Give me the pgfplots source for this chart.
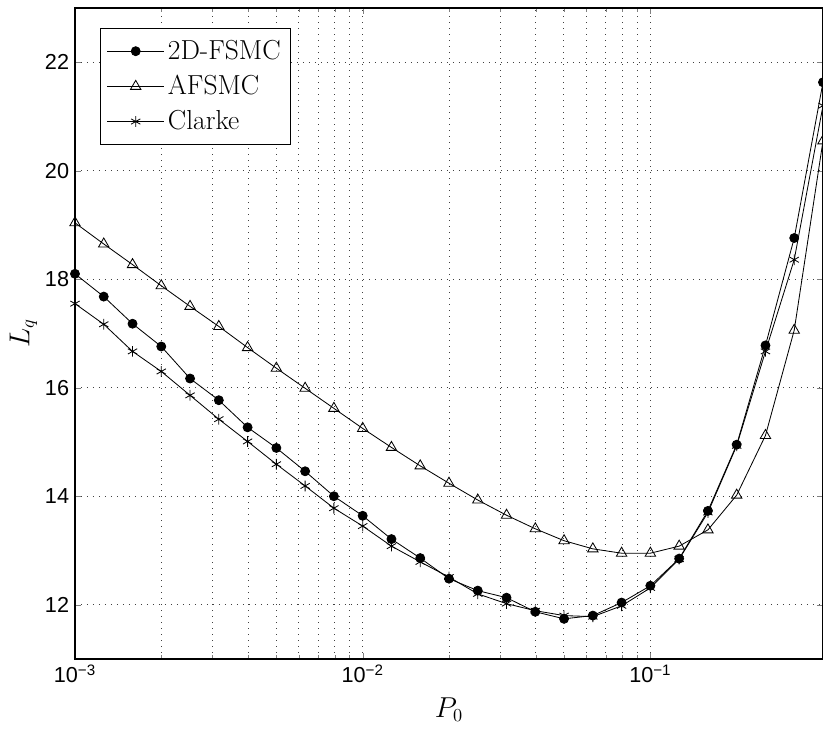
\documentclass[border=0pt]{standalone}
\usepackage{pgfplots}
\pgfplotsset{compat=1.18}
\usepackage{pgfplotstable}
\usepackage{fontspec}
\newfontfamily\hv{Liberation Sans}
\pgfplotstableread{
x fsmc afsmc clarke
0.001 18.10 19.04 17.55
0.0012589 17.68 18.65 17.17
0.0015849 17.18 18.27 16.67
0.0019953 16.76 17.88 16.30
0.0025119 16.17 17.50 15.86
0.0031623 15.77 17.13 15.42
0.0039811 15.27 16.74 15.01
0.0050119 14.89 16.36 14.59
0.0063096 14.46 15.99 14.19
0.0079433 14.00 15.62 13.78
0.01 13.64 15.25 13.45
0.012589 13.21 14.90 13.08
0.015849 12.86 14.56 12.79
0.019953 12.48 14.24 12.51
0.025119 12.26 13.93 12.20
0.031623 12.13 13.65 12.02
0.039811 11.87 13.40 11.89
0.050119 11.74 13.18 11.80
0.063096 11.80 13.03 11.78
0.079433 12.04 12.95 11.98
0.1 12.35 12.95 12.31
0.12589 12.85 13.08 12.84
0.15849 13.73 13.38 13.70
0.19953 14.95 14.02 14.93
0.25119 16.78 15.12 16.67
0.31623 18.76 17.06 18.36
0.39811 21.63 20.55 21.20
}\datatable
\begin{document}
\begin{tikzpicture}
\begin{axis}[
  scale only axis,
  width=448.8pt, height=390.6pt,
  xmode=log,
  xmin=0.001, xmax=0.39811,
  ymin=11, ymax=23,
  xtick={0.001,0.01,0.1},
  xticklabels={{\hv 10\textsuperscript{−3}},{\hv 10\textsuperscript{−2}},{\hv 10\textsuperscript{−1}}},
  ytick={12,14,16,18,20,22},
  yticklabels={{\hv 12},{\hv 14},{\hv 16},{\hv 18},{\hv 20},{\hv 22}},
  tick label style={font=\fontsize{13}{15}\selectfont},
  tick align=inside,
  major tick length=3.5pt, minor tick length=2.2pt,
  grid=both,
  major grid style={dash pattern=on 0.7pt off 2.9pt, black!75, line width=0.5pt},
  minor grid style={dash pattern=on 0.7pt off 2.9pt, black!75, line width=0.5pt},
  minor y tick num=0,
  axis line style={line width=0.7pt},
  xlabel={\fontsize{16}{18}\selectfont $P_0$},
  ylabel={\fontsize{16}{18}\selectfont $L_q$},
  xlabel style={at={(axis description cs:0.5,-0.0783)}, anchor=center},
  ylabel style={at={(axis description cs:-0.0690,0.5)}, anchor=center},
  legend style={at={(0.033,0.969)}, anchor=north west, draw=black, line width=0.6pt,
    font=\fontsize{16.5}{19}\selectfont, row sep=4pt, inner xsep=4pt, inner ysep=5pt, cells={anchor=west}},
  legend image code/.code={\draw[mark repeat=2,mark phase=2] plot coordinates {(0cm,0cm) (0.6cm,0cm) (1.2cm,0cm)};},
  every axis plot/.append style={line width=0.5pt, black},
]
\addplot[mark=*, mark size=2.7pt] table[x=x, y=fsmc] {\datatable};
\addlegendentry{2D-FSMC}
\addplot[mark=triangle, mark size=3.6pt, mark options={fill=white}] table[x=x, y=afsmc] {\datatable};
\addlegendentry{AFSMC}
\addplot[mark=asterisk, mark size=3.2pt] table[x=x, y=clarke] {\datatable};
\addlegendentry{Clarke}
\end{axis}
\pgfresetboundingbox
\path[use as bounding box] ([shift={(-45pt,-42pt)}]current axis.south west) rectangle ([shift={(0pt,4.8pt)}]current axis.north east);
\end{tikzpicture}
\end{document}
